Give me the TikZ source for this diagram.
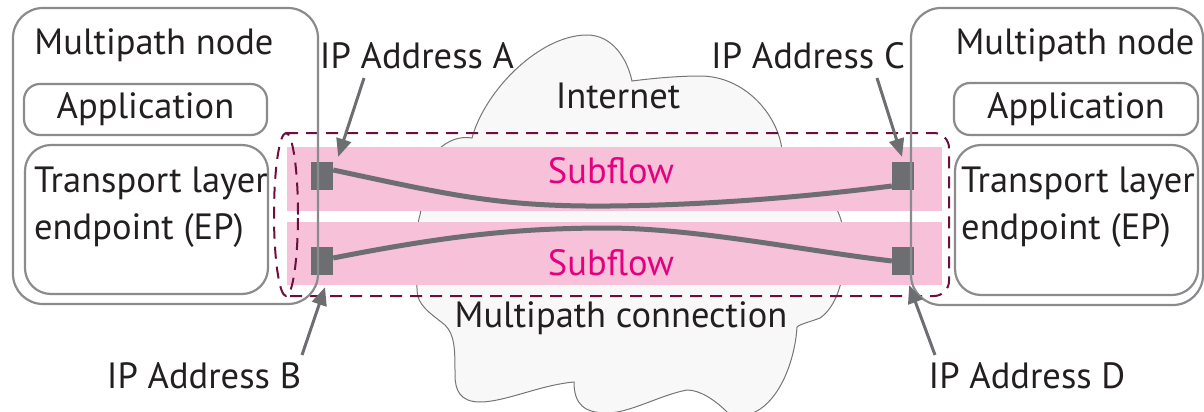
\documentclass[tikz,border=0pt]{standalone}
\usepackage{fontspec}
\setmainfont{PT Sans}
\usetikzlibrary{arrows.meta}
\definecolor{boxgray}{HTML}{8A8B8D}
\definecolor{darkgray}{HTML}{6D6E71}
\definecolor{maroon}{HTML}{6B0F3E}
\definecolor{flowpink}{HTML}{F6C1D9}
\definecolor{flowmag}{HTML}{E4007F}
\definecolor{cloudfill}{HTML}{F8F8F8}
\definecolor{cloudline}{HTML}{767676}
\definecolor{ink}{HTML}{231F20}
\tikzset{
  txt/.style={text=ink, inner sep=0pt, font=\fontsize{36.5}{47}\selectfont},
  hostbox/.style={draw=boxgray, line width=2.2pt, rounded corners=30pt, inner sep=0pt},
  layerbox/.style={draw=boxgray, line width=2.2pt, rounded corners=16pt, inner sep=0pt},
  epbox/.style={draw=boxgray, line width=2.2pt, rounded corners=26pt, inner sep=0pt},
  band/.style={fill=flowpink, draw=none, inner sep=0pt},
  port/.style={fill=darkgray, draw=none, minimum width=22pt, minimum height=28pt, inner sep=0pt},
  flowline/.style={draw=darkgray, line width=5pt},
  pointer/.style={draw=darkgray, line width=3pt, -{Triangle[length=18pt,width=15pt]}},
  dashline/.style={draw=maroon, line width=2pt, dash pattern=on 12pt off 8pt},
  flowtxt/.style={text=flowmag, inner sep=0pt, font=\fontsize{36.5}{47}\selectfont},
}
\begin{document}
\begin{tikzpicture}[x=1pt, y=-1pt]
\useasboundingbox (0,0) rectangle (1204,412);

% Internet cloud
\draw[fill=cloudfill, draw=cloudline, line width=1pt]
  (438,150) .. controls (448,140) and (460,136) .. (472,138)
  .. controls (485,90) and (540,35) .. (587,35)
  .. controls (612,35) and (627,58) .. (632,81)
  .. controls (655,78) and (680,76) .. (700,76)
  .. controls (745,76) and (778,115) .. (782,150)
  .. controls (830,180) and (848,220) .. (845,255)
  .. controls (843,290) and (832,310) .. (820,318)
  .. controls (810,322) and (800,324) .. (797,327)
  .. controls (795,360) and (780,400) .. (755,412)
  .. controls (745,416) and (735,416) .. (727,412)
  .. controls (715,400) and (700,390) .. (687,390)
  .. controls (660,395) and (630,413) .. (607,413)
  .. controls (585,413) and (574,405) .. (574,382)
  .. controls (540,385) and (505,402) .. (480,402)
  .. controls (460,402) and (455,390) .. (455,375)
  .. controls (455,350) and (455,335) .. (445,325)
  .. controls (430,313) and (417,305) .. (417,290)
  .. controls (417,260) and (415,230) .. (420,215)
  .. controls (425,190) and (430,165) .. (438,150) -- cycle;

% subflow bands
\node[band, minimum width=655pt, minimum height=64pt] (band1) at (614.5,179) {};
\node[band, minimum width=655pt, minimum height=63pt] (band2) at (614.5,253.5) {};

% multipath connection (dashed pipe)
\draw[dashline, rounded corners=15pt] (286,133) -- (949,133) -- (949,296) -- (286,296);
\draw[dashline] (286,214.5) ellipse [x radius=12pt, y radius=81.5pt];

% endpoint addresses
\node[port] (sqA) at (322,176) {};
\node[port] (sqB) at (322,261) {};
\node[port] (sqC) at (903,176) {};
\node[port] (sqD) at (903,261) {};

% subflows
\draw[flowline] ([yshift=6pt]sqA.east) .. controls (450,195) and (500,207) .. (610,206)
  .. controls (720,205) and (820,195) .. ([yshift=-10pt]sqC.west);
\draw[flowline] ([yshift=3pt]sqB.east) .. controls (450,235) and (520,228) .. (610,228)
  .. controls (700,229) and (800,250) .. (sqD.west);

% hosts
\node[hostbox, minimum width=305pt, minimum height=296pt] (hostL) at (165.5,156) {};
\node[layerbox, minimum width=243pt, minimum height=51pt] (appL) at (145.5,109.5) {};
\node[epbox, minimum width=243pt, minimum height=149pt] (epL) at (146.5,219.5) {};
\node[hostbox, minimum width=292pt, minimum height=297pt] (hostR) at (1057,156.5) {};
\node[layerbox, minimum width=244pt, minimum height=52pt] (appR) at (1076,109) {};
\node[epbox, minimum width=243pt, minimum height=150pt] (epR) at (1076.5,220) {};

\node[txt] (hostLt) at (154,45) {Multipath node};
\node[txt] (appLt) at (appL) {Application};
\node[txt, anchor=west, align=left] (epLt) at (34,207) {Transport layer\\endpoint (EP)};
\node[txt] (hostRt) at (1075,45) {Multipath node};
\node[txt] (appRt) at (appR) {Application};
\node[txt, anchor=west, align=left] (epRt) at (961,207) {Transport layer\\endpoint (EP)};

% labels
\node[txt] (internet) at (618,96) {Internet};
\node[txt] (mpconn) at (621,318) {Multipath connection};
\node[flowtxt] (sf1) at (611,171) {Subflow};
\node[flowtxt] (sf2) at (611,263) {Subflow};

\node[txt] (ipA) at (417,56) {IP Address A};
\node[txt] (ipC) at (808,56) {IP Address C};
\node[txt] (ipB) at (204,376) {IP Address B};
\node[txt] (ipD) at (1027,376) {IP Address D};

\coordinate (tailA) at (364,78);
\coordinate (tailC) at (877,78);
\coordinate (tailB) at (302,355);
\coordinate (tailD) at (935,355);
\draw[pointer] (tailA) -- ([shift={(5pt,5pt)}]sqA.north east);
\draw[pointer] (tailC) -- ([shift={(-1pt,5pt)}]sqC.north);
\draw[pointer] (tailB) -- ([shift={(3pt,-12pt)}]sqB.south);
\draw[pointer] (tailD) -- ([shift={(-5pt,-10pt)}]sqD.south east);
\end{tikzpicture}
\end{document}
